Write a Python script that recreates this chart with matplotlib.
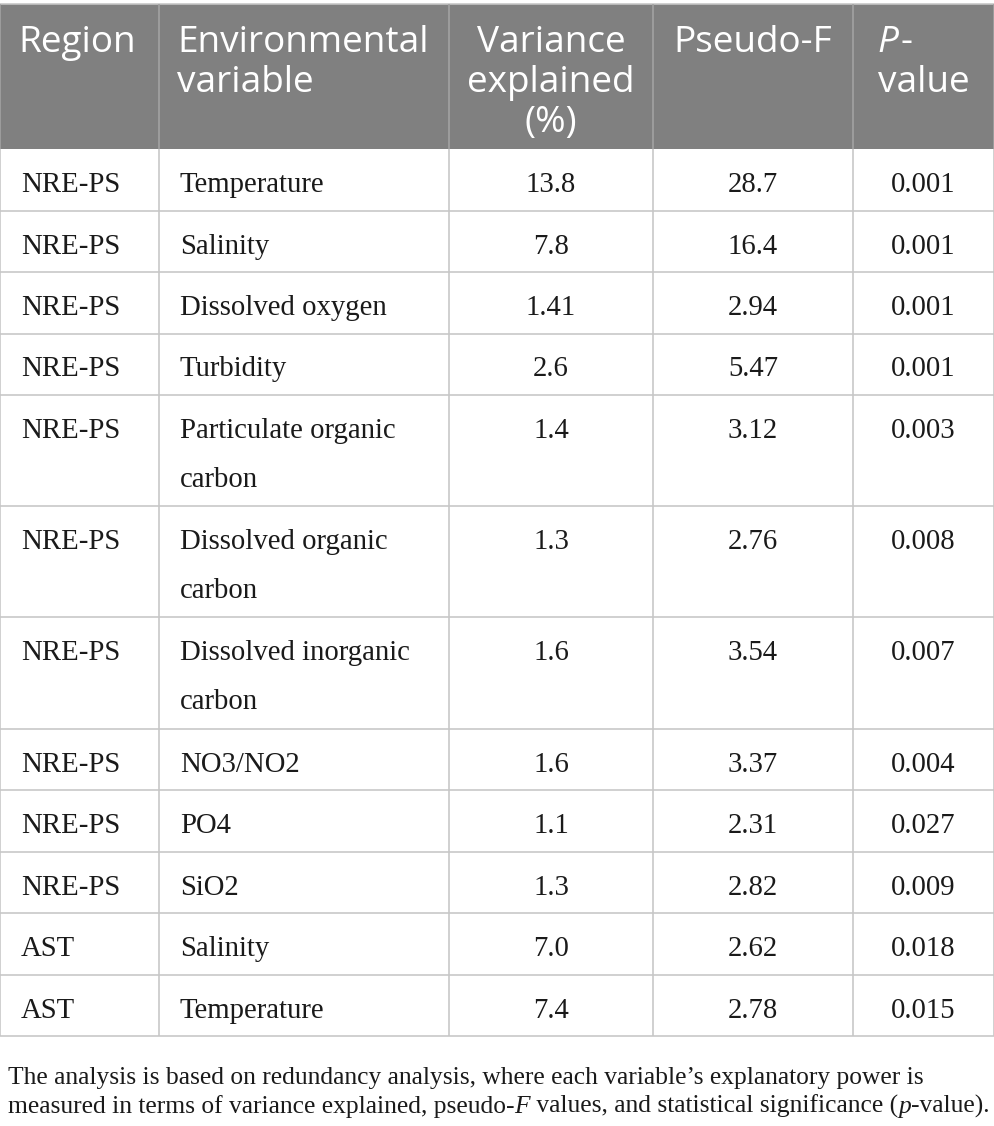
import matplotlib
matplotlib.use("Agg")
import matplotlib.pyplot as plt
from matplotlib.patches import Rectangle

# table content
headers = [["Region"], ["Environmental", "variable"], ["Variance", "explained", "(%)"],
           ["Pseudo-F"], None]
regions = ["NRE-PS"] * 10 + ["AST"] * 2
variables = [["Temperature"], ["Salinity"], ["Dissolved oxygen"], ["Turbidity"],
             ["Particulate organic", "carbon"], ["Dissolved organic", "carbon"],
             ["Dissolved inorganic", "carbon"], ["NO3/NO2"], ["PO4"], ["SiO2"],
             ["Salinity"], ["Temperature"]]
variance = ["13.8", "7.8", "1.41", "2.6", "1.4", "1.3", "1.6", "1.6", "1.1", "1.3", "7.0", "7.4"]
pseudo_f = ["28.7", "16.4", "2.94", "5.47", "3.12", "2.76", "3.54", "3.37", "2.31", "2.82", "2.62", "2.78"]
p_values = ["0.001", "0.001", "0.001", "0.001", "0.003", "0.008", "0.007", "0.004",
            "0.027", "0.009", "0.018", "0.015"]
note_lines = [
    [("The analysis is based on redundancy analysis, where each variable\u2019s explanatory power is", "normal")],
    [("measured in terms of variance explained, pseudo-", "normal"), ("F", "italic"),
     (" values, and statistical significance (", "normal"), ("p", "italic"), ("-value).", "normal")],
]

W, H = 995, 1126
col_edges = [0, 159, 449, 653, 853, 994]
top, head_bot = 4, 149
single_h, double_h = 61.5, 111.2

HEAD_BG = "#808080"
GRID = "#c6c6c6"
TXT = "#1a1a1a"
px = 0.72  # px -> pt at dpi 100

fig = plt.figure(figsize=(W / 100, H / 100), dpi=100)
ax = fig.add_axes([0, 0, 1, 1])
ax.set_xlim(0, W)
ax.set_ylim(H, 0)
ax.axis("off")
renderer = fig.canvas.get_renderer()

head_kw = dict(family="Open Sans", fontsize=37 * px, color="white", va="baseline")
body_kw = dict(family="Liberation Serif", fontsize=28.7 * px, color=TXT, va="baseline")

# header block
ax.add_patch(Rectangle((col_edges[0], top), col_edges[-1] - col_edges[0], head_bot - top,
                       facecolor=HEAD_BG, edgecolor="none"))
for i, lines in enumerate(headers):
    if lines is None:
        continue
    for k, line in enumerate(lines):
        yb = 52 + 40 * k
        if i < 2:
            ax.text(col_edges[i] + 18, yb, line, ha="left", **head_kw)
        else:
            ax.text((col_edges[i] + col_edges[i + 1]) / 2, yb, line, ha="center", **head_kw)

# P-value header: italic P, left aligned with "value"
cx = (col_edges[4] + col_edges[5]) / 2
t = ax.text(cx, 92, "value", ha="center", **head_kw)
bb = t.get_window_extent(renderer)
x0 = bb.x0
tp = ax.text(x0, 52, "P", ha="left", style="italic", **head_kw)
ax.text(x0 + tp.get_window_extent(renderer).width + 2, 52, "-", ha="left", **head_kw)

# body rows
y = head_bot
row_lines = [y]
for r in range(len(regions)):
    h = double_h if len(variables[r]) > 1 else single_h
    yb = y + 43
    ax.text(col_edges[0] + 21, yb, regions[r], ha="left", **body_kw)
    for k, line in enumerate(variables[r]):
        ax.text(col_edges[1] + 21, yb + 49 * k, line, ha="left", **body_kw)
    for c, vals in zip([2, 3, 4], [variance, pseudo_f, p_values]):
        ax.text((col_edges[c] + col_edges[c + 1]) / 2, yb, vals[r], ha="center", **body_kw)
    y += h
    row_lines.append(y)

# grid lines
lw = 1.6 * px
for yl in row_lines[1:]:
    ax.plot([col_edges[0], col_edges[-1]], [yl, yl], color=GRID, lw=lw, solid_capstyle="butt")
ax.plot([col_edges[0], col_edges[-1]], [top, top], color=GRID, lw=lw)
for xc in col_edges:
    ax.plot([xc, xc], [head_bot, row_lines[-1]], color=GRID, lw=lw, solid_capstyle="butt")
    ax.plot([xc, xc], [top, head_bot], color="#a4a4a4", lw=lw, solid_capstyle="butt")

# footnote, fitted to width
note_kw = dict(family="Liberation Serif", color=TXT, va="baseline", ha="left")
def run_width(runs, size):
    w = 0
    for s, st in runs:
        tt = ax.text(0, -100, s, fontsize=size, style=st, **note_kw)
        w += tt.get_window_extent(renderer).width
        tt.remove()
    return w
note_size = 10 * 984 / run_width(note_lines[1], 10)
for k, runs in enumerate(note_lines):
    x = 8
    for s, st in runs:
        tt = ax.text(x, 1084 + 29 * k, s, fontsize=note_size, style=st, **note_kw)
        x += tt.get_window_extent(renderer).width

fig.savefig("out.png", dpi=100, facecolor="white")
